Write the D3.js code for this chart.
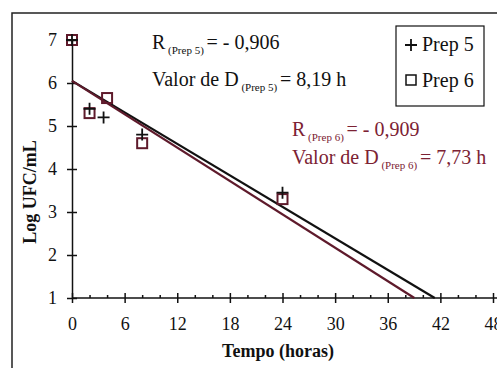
<!DOCTYPE html>
<html>
<head>
<meta charset="utf-8">
<script src="https://cdn.jsdelivr.net/npm/d3@7"></script>
<style>
	body { margin: 0; background: #fff; }
</style>
</head>
<body>
<div id="chart"></div>
<script>
// values
const hours5 = [0, 2, 3.6, 8, 24];
const prep5 = [7.0, 5.4, 5.2, 4.8, 3.45];
const hours6 = [0, 2, 4, 8, 24];
const prep6 = [7.0, 5.3, 5.65, 4.6, 3.3];

const intercepts = [6.05, 6.05];
const dValues = [8.19, 7.73];
const rValues = ["- 0,906", "- 0,909"];
const dLabels = ["8,19 h", "7,73 h"];

const xTicks = [0, 6, 12, 18, 24, 30, 36, 42, 48];
const yTicks = [1, 2, 3, 4, 5, 6, 7];

const serif = "'Liberation Serif', 'Times New Roman', serif";
const black = "#111";
const maroon = "#5e1a2b";
const redText = "#7c2233";

const svg = d3.select("#chart")
	.append("svg")
	.attr("width", 497)
	.attr("height", 368)
	.attr("font-family", serif);

// outer frame
svg.append("path")
	.attr("d", "M12,368 L12,13 L497,13")
	.attr("fill", "none")
	.attr("stroke", "#222")
	.attr("stroke-width", 1.5);

const x = d3.scaleLinear().domain([0, 48]).range([72, 493]);
const y = d3.scaleLinear().domain([1, 7]).range([298, 40]);

// x axis: major ticks cross the line, minor ticks point up
const xAxis = svg.append("g")
	.attr("transform", "translate(0," + y(1) + ")")
	.call(d3.axisBottom(x).tickValues(xTicks).tickSize(5).tickPadding(14).tickSizeOuter(0));
xAxis.selectAll(".tick line").attr("y1", -5);
xAxis.select(".domain").attr("d", "M" + x(0) + ",0H497");

svg.append("g")
	.attr("transform", "translate(0," + y(1) + ")")
	.call(d3.axisBottom(x)
		.tickValues(d3.range(2, 48, 2).filter((d) => d % 6 != 0))
		.tickSize(-3)
		.tickFormat(""))
	.call((g) => g.select(".domain").remove());

const yAxis = svg.append("g")
	.attr("transform", "translate(" + x(0) + ",0)")
	.call(d3.axisLeft(y).tickValues(yTicks).tickFormat(d3.format("d"))
		.tickSize(5).tickPadding(10).tickSizeOuter(0));
yAxis.selectAll(".tick line").attr("x1", 5);

svg.selectAll("g").attr("font-family", serif).attr("font-size", 18);
svg.selectAll(".domain, .tick line").attr("stroke", black).attr("stroke-width", 1.5);
svg.selectAll(".tick text").attr("fill", black);

// axis titles
svg.append("text")
	.attr("x", 278)
	.attr("y", 357)
	.attr("text-anchor", "middle")
	.attr("font-weight", "bold")
	.attr("font-size", 18)
	.attr("fill", black)
	.text("Tempo (horas)");

svg.append("text")
	.attr("transform", "translate(36,192) rotate(-90)")
	.attr("text-anchor", "middle")
	.attr("font-weight", "bold")
	.attr("font-size", 18)
	.attr("fill", black)
	.text("Log UFC/mL");

// regression lines: log N = a - t / D, drawn down to log 1
const lineColors = [black, maroon];
const fits = intercepts.map((a, i) => [
	{ t: 0, v: a },
	{ t: (a - 1) * dValues[i], v: 1 }
]);
const line = d3.line().x((d) => x(d.t)).y((d) => y(d.v));
svg.selectAll(".fit")
	.data(fits)
	.enter()
	.append("path")
	.attr("class", "fit")
	.attr("d", line)
	.attr("fill", "none")
	.attr("stroke", (d, i) => lineColors[i])
	.attr("stroke-width", 2.2);

// Prep 6 squares
svg.selectAll(".sq")
	.data(hours6.map((h, i) => [h, prep6[i]]))
	.enter()
	.append("rect")
	.attr("class", "sq")
	.attr("x", (d) => x(d[0]) - 5)
	.attr("y", (d) => y(d[1]) - 5)
	.attr("width", 10)
	.attr("height", 10)
	.attr("fill", "none")
	.attr("stroke", maroon)
	.attr("stroke-width", 2);

// Prep 5 plus signs
svg.selectAll(".plus")
	.data(hours5.map((h, i) => [h, prep5[i]]))
	.enter()
	.append("path")
	.attr("class", "plus")
	.attr("d", (d) => {
		const cx = x(d[0]), cy = y(d[1]);
		return "M" + (cx - 6) + "," + cy + "H" + (cx + 6) + "M" + cx + "," + (cy - 6) + "V" + (cy + 6);
	})
	.attr("stroke", black)
	.attr("stroke-width", 1.8);

// annotations with subscripts
function annot(px, py, head, sub, tail, color) {
	const t = svg.append("text")
		.attr("x", px)
		.attr("y", py)
		.attr("font-size", 20)
		.attr("fill", color);
	t.append("tspan").text(head);
	t.append("tspan").attr("font-size", 11).attr("dy", 5).text(" " + sub + " ");
	t.append("tspan").attr("dy", -5).text(tail);
}
annot(152, 49, "R", "(Prep 5)", "= " + rValues[0], black);
annot(152, 86, "Valor de D", "(Prep 5)", "= " + dLabels[0], black);
annot(292, 136, "R", "(Prep 6)", "= " + rValues[1], redText);
annot(292, 164, "Valor de D", "(Prep 6)", "= " + dLabels[1], redText);

// legend
svg.append("rect")
	.attr("x", 396)
	.attr("y", 26)
	.attr("width", 88)
	.attr("height", 80)
	.attr("fill", "#fff")
	.attr("stroke", black)
	.attr("stroke-width", 1.2);

svg.append("path")
	.attr("d", "M405,45H417M411,39V51")
	.attr("stroke", black)
	.attr("stroke-width", 1.8);
svg.append("rect")
	.attr("x", 406)
	.attr("y", 75)
	.attr("width", 10)
	.attr("height", 10)
	.attr("fill", "none")
	.attr("stroke", black)
	.attr("stroke-width", 1.5);

svg.selectAll(".leg")
	.data(["Prep 5", "Prep 6"])
	.enter()
	.append("text")
	.attr("class", "leg")
	.attr("x", 422)
	.attr("y", (d, i) => 51 + i * 36)
	.attr("font-size", 20)
	.attr("fill", black)
	.text((d) => d);
</script>
</body>
</html>
